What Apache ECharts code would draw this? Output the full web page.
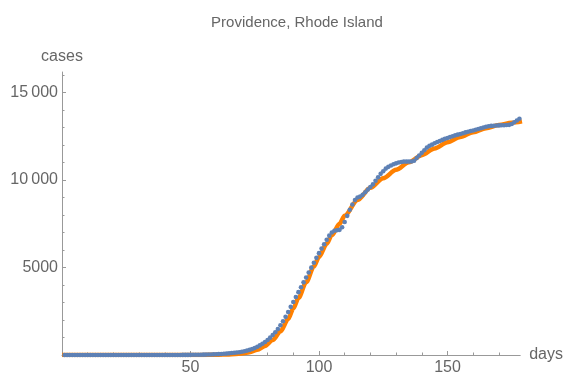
<!DOCTYPE html>
<html>
<head>
<meta charset="utf-8">
<script src="https://cdn.jsdelivr.net/npm/echarts@6/dist/echarts.min.js"></script>
<style>
html,body{margin:0;padding:0;background:#fff;}
#chart{width:566px;height:376px;}
</style>
</head>
<body>
<div id="chart"></div>
<script>
var titleText = 'Providence, Rhode Island';
var xName = 'days';
var yName = 'cases';
var xMajorTicks = [50, 100, 150];
var xMinorTicks = [10, 20, 30, 40, 60, 70, 80, 90, 110, 120, 130, 140, 160, 170];
var yMajorTicks = [5000, 10000, 15000];
var yMinorTicks = [1000, 2000, 3000, 4000, 6000, 7000, 8000, 9000, 11000, 12000, 13000, 14000, 16000];
var firstDay = 1;
// daily reported cases, day 1 .. 179
var cases = [
  0,0,0,0,0,0,0,0,0,0,
  0,0,0,0,0,0,0,0,0,0,
  0,0,0,0,0,0,0,0,0,0,
  0,0,0,0,0,0,0,0,0,1,
  1,2,2,3,3,4,5,6,7,8,
  10,12,14,17,20,24,28,32,36,40,
  50,60,70,80,95,110,125,140,160,185,
  210,250,290,340,400,470,550,640,740,860,
  990,1140,1300,1480,1700,1930,2180,2450,2750,3030,
  3310,3590,3870,4150,4430,4710,4990,5270,5550,5820,
  6080,6330,6580,6820,7000,7100,7130,7150,7300,7600,
  7950,8300,8600,8850,9000,9050,9150,9300,9450,9600,
  9750,9950,10150,10350,10500,10650,10750,10830,10900,10950,
  11000,11030,11050,11050,11050,11060,11100,11250,11400,11550,
  11700,11850,11950,12020,12100,12170,12230,12290,12350,12400,
  12450,12500,12550,12590,12630,12670,12720,12760,12800,12830,
  12870,12910,12960,13000,13040,13070,13090,13100,13110,13120,
  13130,13130,13140,13150,13200,13300,13400,13500
];
// fitted curve, read at selected days
var fitDays =   [0, 40, 55, 60, 65, 70, 73, 76, 79, 82, 85, 88, 90, 92, 95, 98, 100, 103, 105, 108, 110, 115, 120, 125, 130, 135, 140, 145, 150, 155, 160, 165, 170, 175, 179];
var fitValues = [0, 0, 5, 12, 35, 80, 160, 300, 520, 850, 1350, 2050, 2650, 3250, 4150, 5050, 5600, 6350, 6850, 7500, 7950, 8850, 9550, 10100, 10580, 11010, 11420, 11800, 12150, 12460, 12730, 12960, 13140, 13270, 13350];

var dataPts = cases.map(function (v, i) { return [firstDay + i, v]; });
var fitPts = fitDays.map(function (d, i) { return [d, fitValues[i]]; });

var font = '"Liberation Sans", Arial, sans-serif';
var textGray = '#666666';
var axisGray = '#999999';

function fmtY(v) {
  if (v === 0) return '';
  var s = String(Math.round(v));
  if (s.length > 4) s = s.slice(0, s.length - 3) + '\u2009' + s.slice(s.length - 3);
  return s;
}

var chart = echarts.init(document.getElementById('chart'), null, {renderer: 'canvas'});
chart.setOption({
  animation: false,
  backgroundColor: '#ffffff',
  title: {
    text: titleText,
    left: 292, top: 10, textAlign: 'center',
    textStyle: {fontFamily: font, fontSize: 15, fontWeight: 'normal', color: textGray}
  },
  grid: {left: 62, right: 44, top: 72, bottom: 21, containLabel: false},
  xAxis: [{
    type: 'value', min: 0, max: 178.3, position: 'bottom',
    name: xName, nameLocation: 'end', nameGap: 9,
    nameTextStyle: {fontFamily: font, fontSize: 16, color: textGray, verticalAlign: 'middle'},
    axisLine: {show: true, onZero: false, lineStyle: {color: axisGray, width: 1}},
    axisTick: {show: true, inside: true, length: 4, customValues: xMajorTicks, lineStyle: {color: axisGray}},
    axisLabel: {show: true, customValues: xMajorTicks, margin: 5, fontFamily: font, fontSize: 16, color: textGray},
    splitLine: {show: false}
  }, {
    type: 'value', min: 0, max: 178.3, position: 'bottom',
    axisLine: {show: false},
    axisTick: {show: true, inside: true, length: 2.5, customValues: xMinorTicks, lineStyle: {color: axisGray}},
    axisLabel: {show: false},
    splitLine: {show: false}
  }],
  yAxis: [{
    type: 'value', min: 0, max: 16170, position: 'left',
    name: yName, nameLocation: 'end', nameGap: 7,
    nameTextStyle: {fontFamily: font, fontSize: 16, color: textGray, align: 'center'},
    axisLine: {show: true, onZero: false, lineStyle: {color: axisGray, width: 1}},
    axisTick: {show: true, inside: true, length: 4, customValues: yMajorTicks, lineStyle: {color: axisGray}},
    axisLabel: {show: true, customValues: yMajorTicks, margin: 4, fontFamily: font, fontSize: 16, color: textGray, formatter: fmtY},
    splitLine: {show: false}
  }, {
    type: 'value', min: 0, max: 16170, position: 'left',
    axisLine: {show: false},
    axisTick: {show: true, inside: true, length: 2.5, customValues: yMinorTicks, lineStyle: {color: axisGray}},
    axisLabel: {show: false},
    splitLine: {show: false}
  }],
  series: [{
    type: 'line', xAxisIndex: 0, yAxisIndex: 0,
    data: fitPts, smooth: 0.3, smoothMonotone: 'x', showSymbol: false, clip: true,
    lineStyle: {color: '#FF8000', width: 4.5},
    z: 2
  }, {
    type: 'scatter', xAxisIndex: 0, yAxisIndex: 0,
    data: dataPts, symbol: 'circle', symbolSize: 4.6, clip: true,
    itemStyle: {color: '#5E81B5', opacity: 1},
    z: 3
  }]
});
</script>
</body>
</html>
